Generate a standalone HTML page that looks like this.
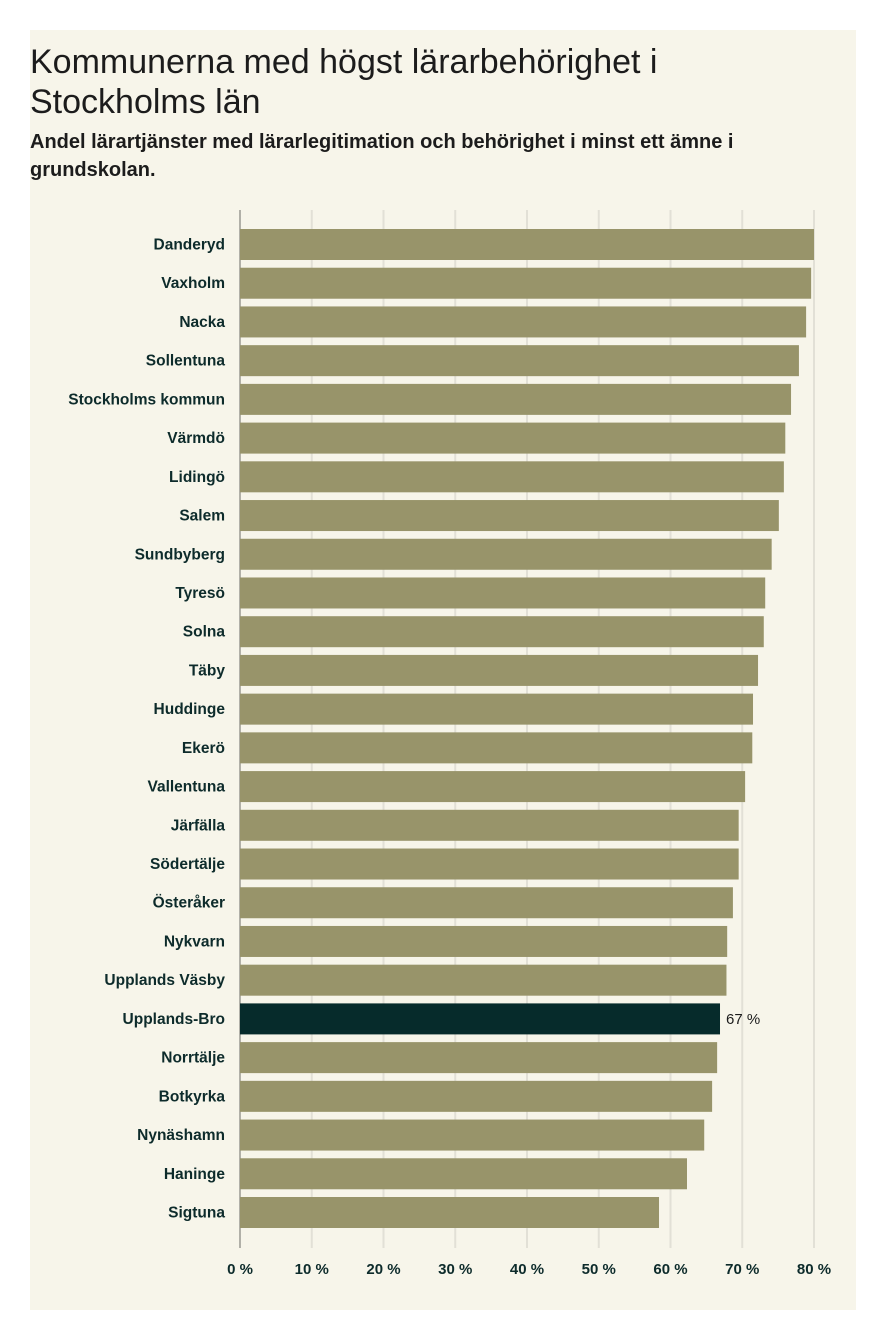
<!DOCTYPE html>
<html><head><meta charset="utf-8"><style>
body{margin:0;width:886px;height:1340px;background:#fff;font-family:"Liberation Sans",sans-serif;overflow:hidden}
#panel{position:absolute;left:30px;top:30px;width:826px;height:1280px;background:#f7f5ea}
h1{position:absolute;left:30px;top:42px;margin:0;font-size:34px;line-height:40px;font-weight:500;color:#1c1c1c;width:760px}
h2{position:absolute;left:30px;top:128px;margin:0;font-size:20px;line-height:28px;font-weight:700;color:#1c1c1c;width:820px}
svg{position:absolute;left:0;top:0}
</style></head><body>
<div id="panel"></div>
<h1>Kommunerna med högst lärarbehörighet i Stockholms län</h1>
<h2>Andel lärartjänster med lärarlegitimation och behörighet i minst ett ämne i grundskolan.</h2>
<svg id="chart" width="886" height="1340"></svg>
<script>
const categories=["Danderyd","Vaxholm","Nacka","Sollentuna","Stockholms kommun","Värmdö","Lidingö","Salem","Sundbyberg","Tyresö","Solna","Täby","Huddinge","Ekerö","Vallentuna","Järfälla","Södertälje","Österåker","Nykvarn","Upplands Väsby","Upplands-Bro","Norrtälje","Botkyrka","Nynäshamn","Haninge","Sigtuna"];
const values=[80.0,79.6,78.9,77.9,76.8,76.0,75.8,75.1,74.1,73.2,73.0,72.2,71.5,71.4,70.4,69.5,69.5,68.7,67.9,67.8,66.9,66.5,65.8,64.7,62.3,58.4];
const ticks=[0,10,20,30,40,50,60,70,80];
const highlight="Upplands-Bro";
const NS="http://www.w3.org/2000/svg";
const svg=document.getElementById('chart');
const x=v=>240+v*(814-240)/80;
const y=i=>229+i*38.72;
const bh=31;
function mk(t,a){const e=document.createElementNS(NS,t);for(const k in a)e.setAttribute(k,a[k]);svg.appendChild(e);return e;}
ticks.forEach(t=>{
 const l=mk('line',{x1:x(t),x2:x(t),y1:210,y2:1248,stroke:t===0?'#9a9a92':'#e2e0d6','stroke-width':t===0?1.5:2});
 
 
 const tx=mk('text',{x:x(t),y:1274,'text-anchor':'middle','font-size':15,fill:'#0d2b2b','font-weight':700});
 tx.textContent=t+' %';
 
 
});
categories.forEach((c,i)=>{
 const hi=c===highlight;
 const r=mk('rect',{x:x(0),y:y(i),width:x(values[i])-x(0),height:bh,fill:hi?'#062b2b':'#98946a'});
 
 
 const t=mk('text',{x:225,y:y(i)+bh/2+5,'text-anchor':'end','font-size':15.5,fill:'#0d2b2b','font-weight':700});
 t.textContent=c;
 
 
 if(hi){
  const v=mk('text',{x:x(values[i])+6,y:y(i)+bh/2+5,'font-size':15,fill:'#1c1c1c'});
  v.textContent=Math.round(values[i])+' %';
  
  
 }
});
</script>
</body></html>
